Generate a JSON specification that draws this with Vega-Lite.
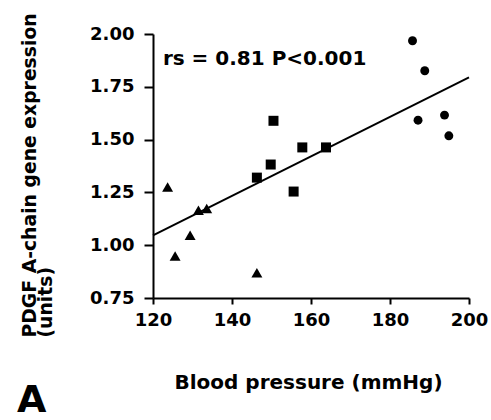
{
  "$schema": "https://vega.github.io/schema/vega-lite/v6.json",
  "width": 316,
  "height": 264,
  "autosize": {"type": "none"},
  "padding": {"left": 153, "top": 34, "right": 22, "bottom": 122},
  "background": "white",
  "config": {
    "view": {"stroke": null},
    "font": "DejaVu Sans"
  },
  "title": {
    "text": "A",
    "orient": "bottom",
    "anchor": "start",
    "frame": "bounds",
    "font": "DejaVu Sans",
    "fontSize": 38,
    "fontWeight": "bold",
    "color": "black",
    "baseline": "alphabetic",
    "offset": 20,
    "dx": -3
  },
  "datasets": {
    "points": [
      {"bp": 123.7, "pdgf": 1.276, "group": "triangle"},
      {"bp": 125.6, "pdgf": 0.949, "group": "triangle"},
      {"bp": 129.4, "pdgf": 1.047, "group": "triangle"},
      {"bp": 131.5, "pdgf": 1.166, "group": "triangle"},
      {"bp": 133.6, "pdgf": 1.174, "group": "triangle"},
      {"bp": 146.3, "pdgf": 0.870, "group": "triangle"},
      {"bp": 150.5, "pdgf": 1.589, "group": "square"},
      {"bp": 146.3, "pdgf": 1.320, "group": "square"},
      {"bp": 149.8, "pdgf": 1.382, "group": "square"},
      {"bp": 157.8, "pdgf": 1.463, "group": "square"},
      {"bp": 163.8, "pdgf": 1.463, "group": "square"},
      {"bp": 155.6, "pdgf": 1.254, "group": "square"},
      {"bp": 185.7, "pdgf": 1.968, "group": "circle"},
      {"bp": 188.8, "pdgf": 1.826, "group": "circle"},
      {"bp": 187.1, "pdgf": 1.592, "group": "circle"},
      {"bp": 193.8, "pdgf": 1.616, "group": "circle"},
      {"bp": 194.9, "pdgf": 1.518, "group": "circle"}
    ],
    "fit": [
      {"bp": 120, "pdgf": 1.047},
      {"bp": 200, "pdgf": 1.795}
    ],
    "note": [
      {"bp": 122.5, "pdgf": 1.853, "label": "rs = 0.81 P<0.001"}
    ]
  },
  "layer": [
    {
      "data": {"name": "fit"},
      "mark": {"type": "line", "color": "black", "strokeWidth": 2},
      "encoding": {
        "x": {
          "field": "bp", "type": "quantitative",
          "scale": {"domain": [120, 200], "nice": false, "zero": false},
          "axis": {
            "values": [120, 140, 160, 180, 200],
            "grid": false,
            "domainColor": "black", "domainWidth": 2,
            "tickColor": "black", "tickWidth": 2, "tickSize": 6,
            "labelFont": "DejaVu Sans", "labelFontWeight": "bold", "labelFontSize": 18,
            "labelColor": "black", "labelPadding": 7, "labelFlush": false,
            "title": "Blood pressure (mmHg)",
            "titleFont": "DejaVu Sans", "titleFontWeight": "bold", "titleFontSize": 20,
            "titleColor": "black", "titleBaseline": "alphabetic", "titleY": 90, "titleX": 155
          }
        },
        "y": {
          "field": "pdgf", "type": "quantitative",
          "scale": {"domain": [0.75, 2.0], "nice": false, "zero": false},
          "axis": {
            "values": [0.75, 1.0, 1.25, 1.5, 1.75, 2.0],
            "format": ".2f",
            "grid": false,
            "domainColor": "black", "domainWidth": 2,
            "tickColor": "black", "tickWidth": 2, "tickSize": 9,
            "labelFont": "DejaVu Sans", "labelFontWeight": "bold", "labelFontSize": 18,
            "labelColor": "black", "labelPadding": 10, "labelFlush": false,
            "title": ["PDGF A-chain gene expression", "(units)"],
            "titleFont": "DejaVu Sans", "titleFontWeight": "bold", "titleFontSize": 18.8,
            "titleColor": "black", "titleAngle": -90, "titleAlign": "left",
            "titleBaseline": "alphabetic", "titleLineHeight": 16,
            "titleX": -118, "titleY": 303
          }
        }
      }
    },
    {
      "data": {"name": "points"},
      "mark": {"type": "point", "filled": true, "color": "black", "opacity": 1},
      "encoding": {
        "x": {"field": "bp", "type": "quantitative"},
        "y": {"field": "pdgf", "type": "quantitative"},
        "shape": {
          "field": "group", "type": "nominal",
          "scale": {"domain": ["triangle", "square", "circle"], "range": ["triangle-up", "square", "circle"]},
          "legend": null
        },
        "size": {
          "field": "group", "type": "nominal",
          "scale": {"domain": ["triangle", "square", "circle"], "range": [120, 80, 75]},
          "legend": null
        }
      }
    },
    {
      "data": {"name": "note"},
      "mark": {"type": "text", "align": "left", "baseline": "alphabetic", "font": "DejaVu Sans", "fontWeight": "bold", "fontSize": 20, "color": "black"},
      "encoding": {
        "x": {"field": "bp", "type": "quantitative"},
        "y": {"field": "pdgf", "type": "quantitative"},
        "text": {"field": "label"}
      }
    }
  ]
}
